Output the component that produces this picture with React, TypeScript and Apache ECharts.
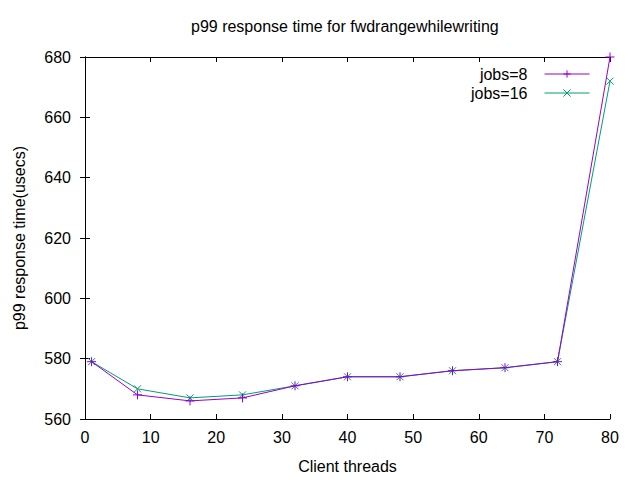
import React, { useEffect, useRef } from "react";
import * as echarts from "echarts";

const threads = [1, 8, 16, 24, 32, 40, 48, 56, 64, 72, 80];
const jobs8 = [579, 568, 566, 567, 571, 574, 574, 576, 577, 579, 680];
const jobs16 = [579, 570, 567, 568, 571, 574, 574, 576, 577, 579, 672];
const seriesNames = ["jobs=8", "jobs=16"];
const colors = ["#9400d3", "#009e73"];

const PLUS = "path://M0,5L10,5M5,0L5,10";
const CROSS = "path://M0,0L10,10M10,0L0,10";

const FONT = "Liberation Sans, Arial, sans-serif";

export default function App() {
  const ref = useRef<HTMLDivElement>(null);
  useEffect(() => {
    if (!ref.current) return;
    const chart = echarts.init(ref.current, null, { renderer: "svg" });
    const mk = (vals: number[]) => threads.map((t, i) => [t, vals[i]]);
    const axisCommon = {
      axisLine: { lineStyle: { color: "#000", width: 1 } },
      axisTick: { inside: true, length: 5, lineStyle: { color: "#000" } },
      splitLine: { show: false },
    };
    const legendCommon = {
      right: 50,
      padding: 0,
      orient: "vertical",
      align: "right",
      itemWidth: 45,
      itemHeight: 9,
      lineStyle: { width: 1 },
      textStyle: { fontFamily: FONT, fontSize: 16, color: "#000", padding: [0, 12, 0, 0] },
    };
    chart.setOption({
      animation: false,
      backgroundColor: "#fff",
      textStyle: { fontFamily: FONT },
      title: {
        text: "p99 response time for fwdrangewhilewriting",
        left: 191,
        top: 18,
        padding: 0,
        textStyle: { fontFamily: FONT, fontSize: 16, fontWeight: "normal", color: "#000" },
      },
      legend: [
        { ...legendCommon, data: [seriesNames[0]], top: 66, itemStyle: { borderWidth: 1, borderColor: colors[0], color: "none" } },
        { ...legendCommon, data: [seriesNames[1]], top: 85, itemStyle: { borderWidth: 1, borderColor: colors[1], color: "none" } },
      ],
      grid: { left: 85, right: 30, top: 57, bottom: 61 },
      xAxis: [
        {
          type: "value",
          min: 0,
          max: 80,
          interval: 10,
          name: "Client threads",
          nameLocation: "middle",
          nameGap: 39,
          nameTextStyle: { fontFamily: FONT, fontSize: 16, color: "#000" },
          axisLabel: { fontFamily: FONT, fontSize: 16, color: "#000", margin: 10 },
          ...axisCommon,
        },
        {
          type: "value",
          position: "top",
          min: 0,
          max: 80,
          interval: 10,
          axisLabel: { show: false },
          ...axisCommon,
        },
      ],
      yAxis: [
        {
          type: "value",
          min: 560,
          max: 680,
          interval: 20,
          name: "p99 response time(usecs)",
          nameLocation: "middle",
          nameRotate: 90,
          nameGap: 58,
          nameTextStyle: { fontFamily: FONT, fontSize: 16, color: "#000" },
          axisLabel: { fontFamily: FONT, fontSize: 16, color: "#000", margin: 14 },
          ...axisCommon,
        },
        {
          type: "value",
          position: "right",
          min: 560,
          max: 680,
          interval: 20,
          axisLabel: { show: false },
          ...axisCommon,
        },
      ],
      series: [
        {
          name: seriesNames[0],
          type: "line",
          data: mk(jobs8),
          symbol: PLUS,
          symbolSize: 9,
          showSymbol: true,
          lineStyle: { color: colors[0], width: 1 },
          itemStyle: { color: "none", borderColor: colors[0], borderWidth: 1 },
          z: 3,
        },
        {
          name: seriesNames[1],
          type: "line",
          data: mk(jobs16),
          symbol: CROSS,
          symbolSize: 7,
          showSymbol: true,
          lineStyle: { color: colors[1], width: 1 },
          itemStyle: { color: "none", borderColor: colors[1], borderWidth: 1 },
          z: 2,
        },
      ],
    });
    return () => chart.dispose();
  }, []);
  return <div ref={ref} style={{ width: 640, height: 480, margin: -8 }} />;
}
